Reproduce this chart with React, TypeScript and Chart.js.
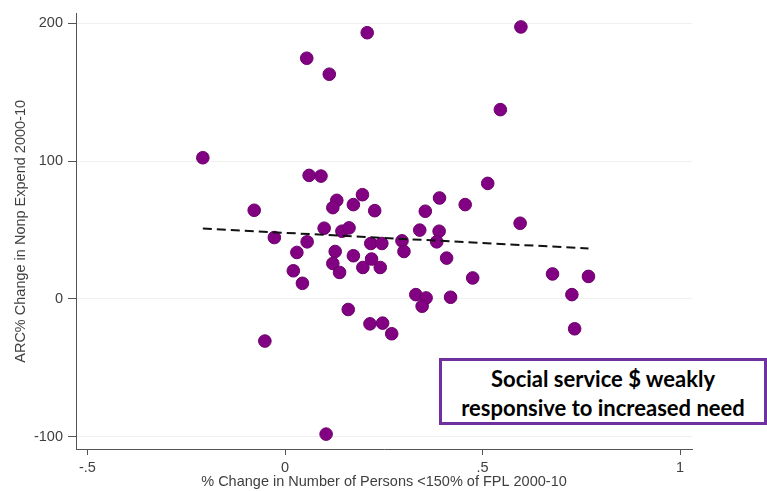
import React, { useEffect, useRef } from "react";
import { Chart, registerables } from "chart.js";

Chart.register(...registerables);

// Scatter data: % change in persons <150% FPL (x) vs ARC% change in nonprofit expenditure (y)
const X_VALUES = [
  -0.208, -0.078, -0.027, -0.051, 0.030, 0.021, 0.044, 0.055, 0.112, 0.208,
  0.597, 0.545, 0.061, 0.091, 0.513, 0.196, 0.131, 0.121, 0.173, 0.227,
  0.391, 0.355, 0.456, 0.595, 0.099, 0.144, 0.162, 0.341, 0.390, 0.056,
  0.217, 0.245, 0.296, 0.384, 0.127, 0.173, 0.219, 0.121, 0.138, 0.197,
  0.241, 0.301, 0.409, 0.475, 0.677, 0.768, 0.726, 0.733, 0.331, 0.357,
  0.347, 0.419, 0.160, 0.215, 0.247, 0.270, 0.104,
];
const Y_VALUES = [
  102.4, 64.3, 44.5, -30.6, 33.7, 20.4, 11.3, 174.6, 163.0, 193.1,
  197.3, 137.3, 89.6, 89.1, 83.8, 75.6, 71.5, 66.2, 68.4, 64.0,
  73.2, 63.6, 68.4, 54.9, 51.3, 49.1, 51.5, 49.9, 49.1, 41.4,
  40.2, 40.2, 42.1, 41.4, 34.4, 31.3, 28.9, 25.7, 19.2, 22.8,
  22.8, 34.4, 29.6, 15.2, 18.1, 16.3, 3.1, -21.7, 3.1, 0.7,
  -5.3, 1.2, -7.7, -18.1, -17.6, -25.3, -98.1,
];

// Fitted (regression) line end points
const FIT_X = [-0.208, 0.768];
const FIT_Y = [51.0, 36.6];

const X_TICKS = [-0.5, 0, 0.5, 1];
const X_TICK_LABELS = ["-.5", "0", ".5", "1"];
const Y_TICKS = [-100, 0, 100, 200];
const Y_TICK_LABELS = ["-100", "0", "100", "200"];

const X_TITLE = "% Change in Number of Persons <150% of FPL 2000-10";
const Y_TITLE = "ARC% Change in Nonp Expend 2000-10";
const NOTE_LINES = ["Social service $ weakly", "responsive to increased need"];

const AXIS_FONT = { family: "'Liberation Sans', Arial, sans-serif", size: 14.5 };
const TEXT_COLOR = "#3f3f3f";
const AXIS_COLOR = "#555555";

export default function App() {
  const canvasRef = useRef<HTMLCanvasElement | null>(null);

  useEffect(() => {
    const canvas = canvasRef.current;
    if (!canvas) return;
    const points = X_VALUES.map((x, i) => ({ x, y: Y_VALUES[i] }));
    const fit = FIT_X.map((x, i) => ({ x, y: FIT_Y[i] }));

    const chart = new Chart(canvas, {
      type: "scatter",
      data: {
        datasets: [
          {
            type: "line",
            data: fit,
            borderColor: "#111111",
            borderWidth: 2,
            borderDash: [9, 5],
            pointRadius: 0,
            fill: false,
            order: 0,
          } as any,
          {
            data: points,
            backgroundColor: "#820082",
            borderColor: "#6c006c",
            borderWidth: 1,
            pointRadius: 6.3,
            order: 1,
          },
        ],
      },
      options: {
        animation: false,
        responsive: false,
        devicePixelRatio: 1,
        layout: { padding: { top: 12, right: 75, bottom: 0, left: 0 } },
        plugins: { legend: { display: false }, tooltip: { enabled: false } },
        scales: {
          x: {
            type: "linear",
            min: -0.529,
            max: 1.03,
            afterBuildTicks: (scale: any) => {
              scale.ticks = X_TICKS.map((v) => ({ value: v }));
            },
            afterFit: (scale: any) => {
              scale.height = 42;
            },
            grid: {
              drawOnChartArea: false,
              drawTicks: true,
              tickLength: 6,
              tickColor: AXIS_COLOR,
              tickWidth: 1,
            },
            border: { display: true, color: AXIS_COLOR, width: 1 },
            ticks: {
              autoSkip: false,
              maxRotation: 0,
              padding: 4,
              color: TEXT_COLOR,
              font: AXIS_FONT,
              callback: (_v: any, i: number) => X_TICK_LABELS[i],
            },
            title: {
              display: true,
              text: X_TITLE,
              color: TEXT_COLOR,
              font: AXIS_FONT,
              padding: { top: 0, bottom: 0 },
            },
          },
          y: {
            type: "linear",
            min: -108.9,
            max: 206.9,
            afterBuildTicks: (scale: any) => {
              scale.ticks = Y_TICKS.map((v) => ({ value: v }));
            },
            afterFit: (scale: any) => {
              scale.width = 76;
            },
            grid: {
              color: "#f0f0f0",
              lineWidth: 1,
              drawTicks: true,
              tickLength: 8,
              tickColor: AXIS_COLOR,
              tickWidth: 1,
            },
            border: { display: true, color: AXIS_COLOR, width: 1 },
            ticks: {
              autoSkip: false,
              padding: 5,
              color: TEXT_COLOR,
              font: AXIS_FONT,
              callback: (_v: any, i: number) => Y_TICK_LABELS[i],
            },
            title: {
              display: true,
              text: Y_TITLE,
              color: TEXT_COLOR,
              font: AXIS_FONT,
              padding: { top: 12, bottom: 0 },
            },
          },
        },
      },
    });
    return () => chart.destroy();
  }, []);

  return (
    <div
      style={{
        position: "fixed",
        left: 0,
        top: 0,
        width: 767,
        height: 491,
        background: "#ffffff",
        overflow: "hidden",
      }}
    >
      <canvas
        ref={canvasRef}
        width={767}
        height={491}
        style={{ display: "block", width: 767, height: 491 }}
      />
      <div
        style={{
          position: "absolute",
          left: 439,
          top: 358,
          width: 328,
          height: 67,
          boxSizing: "border-box",
          border: "3px solid #7030A0",
          background: "#ffffff",
          display: "flex",
          flexDirection: "column",
          justifyContent: "center",
          alignItems: "center",
          paddingTop: 3,
          fontFamily: "Lato, 'Open Sans', sans-serif",
          fontWeight: 700,
          fontSize: 22,
          lineHeight: "29px",
          color: "#000000",
          whiteSpace: "nowrap",
        }}
      >
        {NOTE_LINES.map((line) => (
          <div key={line}>{line}</div>
        ))}
      </div>
    </div>
  );
}
